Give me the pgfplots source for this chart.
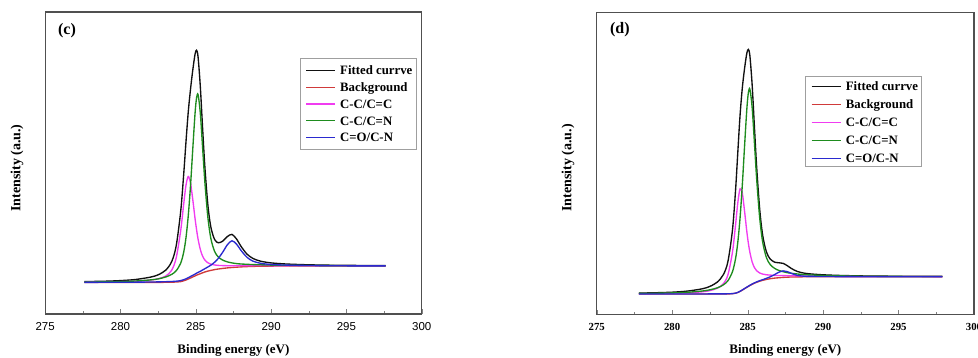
\documentclass[border=0pt]{standalone}
\usepackage{fontspec}
\setmainfont{Liberation Serif}
\newfontfamily\arialfont{Liberation Sans}
\usepackage{pgfplots}
\usepackage{pgfplotstable}
\pgfplotsset{compat=1.18}

\definecolor{fitc}{HTML}{111111}
\definecolor{bgc}{HTML}{D03A3A}
\definecolor{ccc}{HTML}{F03CF0}
\definecolor{cnc}{HTML}{1E8C1E}
\definecolor{coc}{HTML}{2A2ACF}
\definecolor{framec}{HTML}{505050}

% C 1s spectra: x = binding energy (eV); bg = Shirley background,
% cc = C-C/C=C, cn = C-C/C=N, co = C=O/C-N, fit = fitted envelope
\pgfplotstableread{
x      bg    cc     cn     co    fit
277.6  31.5  31.8   31.9   31.6  32.4
279.0  31.5  32.0   32.2   31.7  32.8
280.0  31.5  32.3   32.4   31.7  33.4
281.0  31.5  32.7   33.0   31.8  34.5
282.0  31.6  34.0   34.1   32.0  36.9
282.5  31.6  35.2   35.1   32.1  39.2
283.0  31.7  37.9   37.0   32.3  43.8
283.4  31.8  43.8   39.6   32.5  52.4
283.7  32.0  56.2   43.3   32.8  68.3
284.0  32.4  83.7   50.9   33.4  103.1
284.2  33.2  110.4  62.1   34.3  140.4
284.35 34.0  128.9  76.5   35.2  172.6
284.5  35.0  137.5  98.4   36.3  202.2
284.65 36.0  130.9  128.5  37.5  224.9
284.8  37.1  114.3  165.2  38.7  244.0
284.95 38.1  95.5   200.6  39.9  259.8
285.05 38.8  84.4   216.1  40.8  263.7
285.15 39.4  75.0   219.4  41.6  257.2
285.3  40.3  64.5   200.8  42.7  227.4
285.45 41.2  57.9   166.8  44.0  186.3
285.6  42.0  54.0   132.3  45.3  147.6
285.8  42.9  51.2   96.9   47.0  109.3
286.0  43.6  49.8   75.5   48.8  86.9
286.25 44.4  49.0   62.5   51.8  74.5
286.5  45.0  48.6   56.9   55.7  71.2
286.8  45.6  48.4   53.8   62.1  73.0
287.1  46.1  48.3   52.1   69.3  77.5
287.4  46.5  48.3   51.1   73.2  79.6
287.7  46.8  48.3   50.4   70.0  75.1
288.0  47.1  48.3   50.0   63.6  67.7
288.4  47.4  48.4   49.7   56.7  59.9
288.8  47.6  48.4   49.4   52.8  55.5
289.3  47.8  48.5   49.2   50.7  52.8
290.0  47.9  48.4   48.9   49.5  51.1
291.0  48.0  48.4   48.7   48.9  50.0
292.5  48.0  48.2   48.5   48.5  49.2
294.5  48.0  48.2   48.3   48.2  48.7
297.6  48.0  48.1   48.2   48.1  48.4
}\spectrumC

\pgfplotstableread{
x      bg    cc     cn     co    fit
277.8  20.7  21.0   21.3   20.7  21.6
279.0  20.7  21.2   21.5   20.7  22.0
280.0  20.7  21.4   21.8   20.7  22.5
281.0  20.7  21.9   22.4   20.7  23.6
282.0  20.7  22.9   23.7   20.7  25.9
282.5  20.7  24.1   24.9   20.8  28.3
283.0  20.7  26.5   26.9   20.8  32.7
283.4  20.7  31.0   29.9   20.8  40.3
283.7  20.8  40.1   34.1   20.9  53.5
284.0  21.0  63.0   43.1   21.1  85.2
284.2  21.5  89.7   56.0   21.6  124.3
284.35 22.2  112.0  72.5   22.3  162.4
284.5  23.3  125.9  97.0   23.4  199.7
284.65 24.6  121.3  130.1  24.8  227.0
284.8  26.0  103.1  169.2  26.2  246.5
284.95 27.4  82.8   206.1  27.6  261.7
285.05 28.3  71.4   222.0  28.5  265.3
285.15 29.2  62.4   225.6  29.4  259.0
285.3  30.4  52.8   207.1  30.7  229.8
285.45 31.5  47.1   172.1  31.8  188.0
285.6  32.4  43.9   135.5  32.8  147.4
285.8  33.5  41.7   96.8   34.0  105.5
286.0  34.4  40.6   72.4   35.0  79.2
286.25 35.3  39.9   56.9   36.4  62.6
286.5  36.0  39.6   50.1   37.9  55.6
286.8  36.6  39.3   46.2   40.2  52.5
287.1  37.0  39.2   44.1   42.7  51.9
287.35 37.3  39.1   43.0   43.8  51.3
287.6  37.5  39.0   42.1   43.2  49.3
287.9  37.7  39.0   41.4   41.3  46.2
288.3  37.8  38.8   40.7   39.3  43.2
288.8  37.9  38.7   40.0   38.4  41.4
289.3  38.0  38.6   39.7   38.3  40.6
290.0  38.0  38.5   39.2   38.2  39.9
291.0  38.0  38.4   38.9   38.1  39.3
292.5  38.0  38.2   38.5   38.0  38.8
294.5  38.0  38.2   38.3   38.0  38.5
297.9  38.0  38.1   38.2   38.0  38.3
}\spectrumD

\pgfplotsset{
  xpspanel/.style={
    scale only axis,
    anchor=south west,
    xmin=275, xmax=300, ymin=0,
    xtick={275,280,285,290,295,300},
    minor x tick num=1,
    ytick=\empty,
    xtick pos=left,
    tick align=inside,
    major tick length=5pt,
    minor tick length=3pt,
    axis line style={framec, line width=1.1pt},
    clip=false,
  },
  curve/.style={line width=1.35pt, smooth, tension=0.5},
}

\newcommand{\xlab}{\fontsize{13}{15}\selectfont\bfseries Binding energy (eV)}
\newcommand{\ylab}{\fontsize{14}{16}\selectfont\bfseries Intensity (a.u.)}

% sample line of a key row: #1 = x of line start, #2 = y, #3 = colour
\newcommand{\keyline}[3]{%
  \draw[#3, line width=1.35pt] (#1pt,#2pt) -- ++(29pt,0pt);
}
% text of a key row: #1 = x of line start, #2 = y of line, #3 = text
\newcommand{\keytext}[3]{%
  \node[anchor=base west, inner sep=0pt,
        font=\fontsize{12.8}{14}\selectfont\bfseries]
    at (#1pt+34pt,#2pt-4.3pt) {#3};
}

\begin{document}
\begin{tikzpicture}
\useasboundingbox (0pt,0pt) rectangle (978pt,358pt);

% ---- panel (c)
\begin{axis}[xpspanel,
  at={(45.2pt,44pt)}, width=376.5pt, height=302pt, ymax=302,
  xticklabels={275,280,285,290,295,300},
  xticklabel style={anchor=center, yshift=-12.7pt,
    font=\arialfont\fontsize{11.5}{13}\selectfont},
]
\addplot[curve, fitc] table[x=x, y=fit] {\spectrumC};
\addplot[curve, bgc] table[x=x, y=bg] {\spectrumC};
\addplot[curve, ccc] table[x=x, y=cc] {\spectrumC};
\addplot[curve, cnc] table[x=x, y=cn] {\spectrumC};
\addplot[curve, coc] table[x=x, y=co] {\spectrumC};
\node[font=\fontsize{16}{18}\selectfont\bfseries] at (axis cs:276.45,283) {(c)};
\node at ([yshift=-36pt]axis description cs:0.5,0) {\xlab};
\node[rotate=90] at ([xshift=-28.2pt]axis description cs:0,0.483) {\ylab};
\end{axis}

% ---- panel (d)
\begin{axis}[xpspanel,
  at={(596.7pt,43.3pt)}, width=377.3pt, height=302.4pt, ymax=302.4,
  xticklabels={\textbf{275},\textbf{280},\textbf{285},\textbf{290},\textbf{295},\textbf{300}},
  xticklabel style={anchor=center, yshift=-12pt,
    font=\fontsize{10.8}{12}\selectfont},
]
\addplot[curve, fitc] table[x=x, y=fit] {\spectrumD};
\addplot[curve, bgc] table[x=x, y=bg] {\spectrumD};
\addplot[curve, ccc] table[x=x, y=cc] {\spectrumD};
\addplot[curve, cnc] table[x=x, y=cn] {\spectrumD};
\addplot[curve, coc] table[x=x, y=co] {\spectrumD};
\node[font=\fontsize{16}{18}\selectfont\bfseries] at (axis cs:276.54,284.7) {(d)};
\node at ([yshift=-35.4pt]axis description cs:0.5,0) {\xlab};
\node[rotate=90] at ([xshift=-28.7pt]axis description cs:0,0.485) {\ylab};
\end{axis}

% keys: frames and sample lines first, all texts afterwards
\draw[gray!75, line width=0.7pt, fill=white] (300pt,209pt) rectangle (416.7pt,299.5pt);
\draw[gray!75, line width=0.7pt, fill=white] (805.7pt,191.3pt) rectangle (921.7pt,281.3pt);
\keyline{306}{287.3}{fitc}
\keyline{306}{270.6}{bgc}
\keyline{306}{253.9}{ccc}
\keyline{306}{237.2}{cnc}
\keyline{306}{220.5}{coc}
\keyline{811.7}{271.3}{fitc}
\keyline{811.7}{253.4}{bgc}
\keyline{811.7}{235.5}{ccc}
\keyline{811.7}{217.6}{cnc}
\keyline{811.7}{199.7}{coc}

\keytext{306}{287.3}{Fitted currve}
\keytext{306}{270.6}{Background}
\keytext{306}{253.9}{C-C/C=C}
\keytext{306}{237.2}{C-C/C=N}
\keytext{306}{220.5}{C=O/C-N}
\keytext{811.7}{271.3}{Fitted currve}
\keytext{811.7}{253.4}{Background}
\keytext{811.7}{235.5}{C-C/C=C}
\keytext{811.7}{217.6}{C-C/C=N}
\keytext{811.7}{199.7}{C=O/C-N}
\end{tikzpicture}
\end{document}
